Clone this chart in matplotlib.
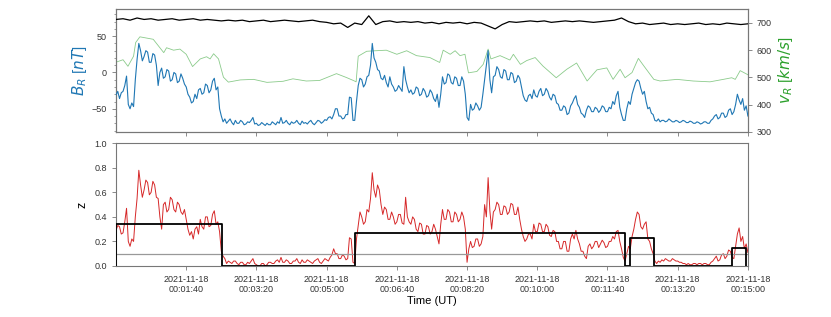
import matplotlib
matplotlib.use("Agg")
import matplotlib.pyplot as plt
import numpy as np
import datetime as dt

plt.rcParams['font.family'] = ['Liberation Sans', 'DejaVu Sans']
plt.rcParams['mathtext.fontset'] = 'dejavusans'

# ---------------- data (seconds after 2021-11-18 00:00:00) ----------------
t_fast = list(np.arange(0, 900.1, 2.5))

B_R = [-31, -26, -36, -28, -26, -18, -5, -44, -50, -42, -47, -10, 18, 40, 30, 16, 22, 30, 28, 14,
       14, 26, 24, 10, -18, 0, 6, -8, -6, 4, 2, -12, -10, 0, -2, -14, -12, -2, -8, -16,
       -20, -30, -34, -42, -40, -30, -36, -24, -22, -30, -28, -16, -18, -28, -24, -12, -8, -24, -20, -50,
       -60, -68, -64, -70, -67, -64, -69, -72, -66, -70, -70, -66, -68, -72, -71, -68, -69, -66, -62, -71,
       -70, -73, -72, -69, -71, -73, -70, -72, -72, -68, -70, -72, -68, -70, -62, -70, -69, -66, -70, -72,
       -68, -70, -69, -66, -70, -72, -67, -70, -69, -71, -68, -66, -70, -72, -69, -66, -67, -70, -68, -65,
       -66, -62, -61, -64, -58, -50, -50, -60, -60, -64, -63, -58, -58, -34, -35, -66, -66, -40, -18, -8,
       -10, -20, -16, -6, -4, 10, 40, 20, 14, 4, 2, -8, -10, -4, -14, -20, -6, -16, -20, -26,
       -24, -18, -22, -26, 8, -10, -20, -28, -24, -30, -28, -20, -22, -32, -30, -22, -26, -34, -32, -24,
       -28, -36, -40, -30, -48, -30, -6, -16, -14, -2, -4, -14, -16, -6, -8, -18, -18, -6, -12, -30,
       -62, -66, -44, -52, -50, -42, -46, -52, -48, -30, -10, 10, 30, -10, -28, -6, -4, 8, 4, -6,
       -8, 4, 2, -10, -10, 0, -2, -14, -12, -4, -8, -20, -32, -38, -40, -32, -30, -36, -24, -32,
       -34, -26, -22, -32, -30, -22, -26, -34, -38, -30, -32, -42, -44, -52, -52, -46, -48, -58, -56, -46,
       -42, -36, -32, -44, -48, -56, -58, -62, -52, -46, -48, -54, -54, -48, -50, -55, -52, -46, -48, -54,
       -54, -48, -50, -40, -44, -32, -26, -48, -58, -66, -66, -50, -40, -44, -30, -22, -14, -10, -12, -22,
       -30, -26, -40, -50, -48, -56, -58, -66, -67, -64, -68, -66, -66, -68, -67, -64, -66, -68, -68, -66,
       -67, -69, -68, -66, -67, -69, -69, -67, -68, -70, -70, -68, -69, -71, -70, -68, -68, -70, -70, -66,
       -64, -60, -58, -64, -62, -56, -56, -62, -60, -52, -50, -58, -54, -44, -30, -38, -44, -36, -52, -46,
       -60]

z = [0.29, 0.33, 0.32, 0.26, 0.27, 0.36, 0.47, 0.20, 0.16, 0.22, 0.20, 0.40, 0.55, 0.78, 0.66, 0.56, 0.62, 0.70, 0.68, 0.58,
     0.60, 0.69, 0.66, 0.56, 0.55, 0.40, 0.30, 0.50, 0.52, 0.44, 0.46, 0.56, 0.54, 0.46, 0.44, 0.52, 0.50, 0.44, 0.42, 0.46,
     0.38, 0.30, 0.25, 0.28, 0.22, 0.30, 0.32, 0.26, 0.38, 0.32, 0.30, 0.40, 0.40, 0.32, 0.33, 0.42, 0.45, 0.34, 0.36, 0.28,
     0.12, 0.08, 0.06, 0.02, 0.04, 0.03, 0.02, 0.04, 0.04, 0.02, 0.01, 0.03, 0.03, 0.01, 0.01, 0.03, 0.02, 0.04, 0.06, 0.02,
     0.01, 0.00, 0.00, 0.02, 0.02, 0.00, 0.01, 0.03, 0.03, 0.02, 0.02, 0.04, 0.05, 0.03, 0.07, 0.03, 0.03, 0.05, 0.04, 0.02,
     0.02, 0.04, 0.04, 0.06, 0.03, 0.02, 0.05, 0.03, 0.03, 0.05, 0.04, 0.03, 0.02, 0.04, 0.05, 0.06, 0.03, 0.02, 0.04, 0.06,
     0.05, 0.04, 0.07, 0.09, 0.14, 0.10, 0.10, 0.06, 0.06, 0.09, 0.08, 0.05, 0.06, 0.23, 0.22, 0.03, 0.02, 0.22, 0.33, 0.44,
     0.40, 0.34, 0.36, 0.46, 0.44, 0.55, 0.76, 0.62, 0.56, 0.66, 0.62, 0.50, 0.42, 0.48, 0.46, 0.38, 0.38, 0.44, 0.40, 0.34,
     0.36, 0.42, 0.42, 0.35, 0.34, 0.56, 0.40, 0.36, 0.34, 0.40, 0.38, 0.30, 0.28, 0.35, 0.34, 0.26, 0.26, 0.33, 0.32, 0.26,
     0.28, 0.34, 0.30, 0.24, 0.18, 0.34, 0.46, 0.38, 0.38, 0.46, 0.44, 0.36, 0.36, 0.44, 0.42, 0.36, 0.38, 0.44, 0.40, 0.30,
     0.03, 0.14, 0.20, 0.15, 0.16, 0.22, 0.22, 0.16, 0.18, 0.24, 0.50, 0.40, 0.72, 0.45, 0.30, 0.44, 0.46, 0.52, 0.50, 0.42,
     0.42, 0.49, 0.48, 0.42, 0.44, 0.51, 0.50, 0.42, 0.42, 0.48, 0.38, 0.30, 0.24, 0.20, 0.22, 0.26, 0.26, 0.22, 0.34, 0.28,
     0.28, 0.35, 0.34, 0.28, 0.28, 0.34, 0.32, 0.25, 0.24, 0.29, 0.28, 0.20, 0.20, 0.14, 0.14, 0.20, 0.20, 0.12, 0.12, 0.22,
     0.26, 0.22, 0.29, 0.22, 0.18, 0.12, 0.12, 0.08, 0.06, 0.16, 0.18, 0.14, 0.16, 0.20, 0.20, 0.15, 0.18, 0.21, 0.19, 0.15,
     0.16, 0.20, 0.20, 0.24, 0.22, 0.28, 0.29, 0.20, 0.14, 0.07, 0.04, 0.10, 0.16, 0.14, 0.24, 0.30, 0.38, 0.44, 0.42, 0.32,
     0.30, 0.34, 0.36, 0.22, 0.20, 0.14, 0.10, 0.04, 0.02, 0.04, 0.03, 0.05, 0.04, 0.06, 0.05, 0.04, 0.04, 0.06, 0.05, 0.04,
     0.04, 0.03, 0.03, 0.02, 0.02, 0.01, 0.02, 0.01, 0.01, 0.02, 0.02, 0.01, 0.02, 0.02, 0.01, 0.02, 0.02, 0.01, 0.01, 0.03,
     0.04, 0.06, 0.08, 0.04, 0.05, 0.09, 0.10, 0.06, 0.08, 0.13, 0.12, 0.07, 0.06, 0.16, 0.26, 0.31, 0.20, 0.24, 0.14, 0.18,
     0.11]

t_babs = list(range(0, 901, 10))
B_abs = [73, 74, 72, 75, 73, 74, 72, 73, 74, 72, 73, 74, 72, 73, 72, 71, 72, 71, 72, 70,
         71, 72, 70, 71, 72, 71, 70, 71, 72, 70, 69, 67, 68, 62, 68, 66, 78, 66, 70, 71,
         69, 70, 69, 70, 68, 69, 67, 69, 68, 69, 67, 69, 68, 64, 60, 66, 70, 69, 70, 71,
         70, 71, 69, 70, 71, 70, 71, 70, 69, 70, 71, 72, 75, 70, 67, 68, 66, 67, 68, 66,
         67, 66, 67, 68, 66, 67, 66, 68, 67, 66, 67]

t_v = [0, 10, 17, 25, 28, 34, 53, 68, 72, 82, 91, 100, 109, 120, 129, 134, 139, 146, 153, 160,
       177, 196, 215, 238, 252, 271, 290, 314, 328, 338, 342, 345, 357, 370, 385, 400, 414, 428, 447, 461,
       466, 476, 483, 490, 497, 502, 514, 523, 530, 534, 547, 561, 566, 576, 585, 597, 608, 627, 642, 656,
       671, 685, 699, 708, 718, 725, 735, 744, 751, 766, 775, 799, 822, 846, 865, 877, 882, 889, 900]
v_R = [556, 565, 541, 578, 628, 649, 640, 591, 609, 600, 604, 585, 540, 568, 576, 568, 587, 568, 501, 483,
       491, 493, 482, 486, 495, 487, 489, 514, 500, 489, 484, 578, 596, 598, 600, 585, 598, 580, 573, 555,
       600, 585, 598, 580, 585, 517, 522, 548, 604, 568, 580, 564, 585, 548, 562, 573, 542, 499, 530, 553,
       487, 528, 535, 493, 530, 499, 518, 570, 545, 493, 487, 493, 487, 484, 493, 499, 493, 525, 510]

seg_start = [0, 341, 732, 878]
seg_end = [151, 725, 766, 898]
seg_level = [0.34, 0.27, 0.23, 0.15]
z_threshold = 0.1

tick_seconds = [100, 200, 300, 400, 500, 600, 700, 800, 900]

assert len(B_R) == len(t_fast) and len(z) == len(t_fast)
assert len(B_abs) == len(t_babs) and len(v_R) == len(t_v)

# ---------------- plotting ----------------
t0 = dt.datetime(2021, 11, 18, 0, 0, 0)
def to_dt(ts):
    return [t0 + dt.timedelta(seconds=float(s)) for s in ts]

fig = plt.figure(figsize=(8.31, 3.17), dpi=100)
ax1 = fig.add_axes([0.1396, 0.5836, 0.7604, 0.3871])
ax2 = fig.add_axes([0.1396, 0.161, 0.7604, 0.387])
ax1r = ax1.twinx()

spine_col = '#777777'
for a in (ax1, ax2, ax1r):
    for s in a.spines.values():
        s.set_color(spine_col)
        s.set_linewidth(0.8)
    a.tick_params(colors='#333333', labelsize=6.5, width=0.6, length=3, color=spine_col)

ax1.plot(to_dt(t_fast), B_R, color='#1f77b4', lw=0.8, zorder=3)
ax1.plot(to_dt(t_babs), B_abs, color='black', lw=0.9, zorder=3)
ax1r.plot(to_dt(t_v), v_R, color='#2ca02c', lw=0.6, alpha=0.55)
ax1.set_zorder(ax1r.get_zorder() + 1)
ax1.patch.set_visible(False)

ax1.set_ylim(-82, 87)
ax1.set_yticks([-50, 0, 50])
ax1.set_yticklabels(['\u221250', '0', '50'])
ax1.yaxis.set_minor_locator(matplotlib.ticker.MultipleLocator(10))
ax1.tick_params(which='minor', length=1.5, width=0.5, color=spine_col)
ax1r.set_ylim(300, 750)
ax1r.set_yticks([300, 400, 500, 600, 700])
ax1.set_ylabel('$B_R$ [$nT$]', color='#1f77b4', fontsize=11, labelpad=2)
ax1r.set_ylabel('$v_R$ [$km/s$]', color='#2ca02c', fontsize=11, labelpad=3)

xmin, xmax = to_dt([0, 900])
ticks = to_dt(tick_seconds)
for a in (ax1, ax2):
    a.set_xlim(xmin, xmax)
    a.set_xticks(ticks)
ax1.set_xticklabels([])
ax2.set_xticklabels([d.strftime('%Y-%m-%d\n%H:%M:%S') for d in ticks])

ax2.plot(to_dt(t_fast), z, color='#d62728', lw=0.7)
ax2.axhline(z_threshold, color='#999999', lw=0.9)
sx, sy = [], []
for s, e, lv in zip(seg_start, seg_end, seg_level):
    sx += [s, s, e, e]
    sy += [0, lv, lv, 0]
ax2.plot(to_dt(sx), sy, color='black', lw=1.3, zorder=4)
ax2.set_ylim(0, 1)
ax2.set_yticks([0, 0.2, 0.4, 0.6, 0.8, 1.0])
ax2.set_ylabel('z', fontsize=9, labelpad=4)
ax2.set_xlabel('Time (UT)', fontsize=8, labelpad=1)

fig.savefig('out.png', dpi=100)
